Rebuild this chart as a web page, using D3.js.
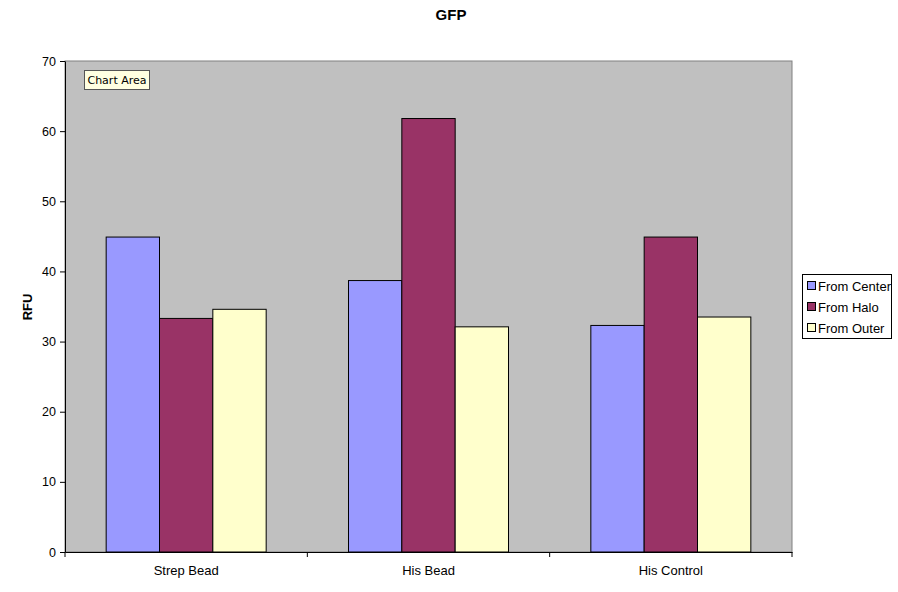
<!DOCTYPE html>
<html><head><meta charset="utf-8">
<script src="https://cdn.jsdelivr.net/npm/d3@7"></script>
<style>body{margin:0;background:#fff;}svg{display:block;font-family:Arial,"Liberation Sans",sans-serif;}</style>
</head><body><svg id="c" width="898" height="592"></svg>
<script>
const categories = ["Strep Bead", "His Bead", "His Control"];
const seriesNames = ["From Center", "From Halo", "From Outer"];
const fromCenter = [44.9, 38.7, 32.3];
const fromHalo = [33.3, 61.8, 44.9];
const fromOuter = [34.6, 32.1, 33.5];
const yTicks = [0, 10, 20, 30, 40, 50, 60, 70];
const colors = ["#9999ff", "#993366", "#ffffcc"];

const series = [fromCenter, fromHalo, fromOuter];
const svg = d3.select("#c");
const L = 65, R = 792, T = 61, B = 552;

const x = d3.scaleBand().domain(categories).range([L, R]).paddingInner(0).paddingOuter(0);
const groupW = 160;
const xs = d3.scaleBand().domain(seriesNames).range([0, groupW]).padding(0);
const y = d3.scaleLinear().domain([0, 70]).range([B, T]);

svg.append("rect").attr("x", L).attr("y", T).attr("width", R - L).attr("height", B - T)
  .attr("fill", "#c0c0c0").attr("stroke", "#808080").attr("stroke-width", 1);

categories.forEach((c, ci) => {
  const gx = x(c) + (x.bandwidth() - groupW) / 2;
  seriesNames.forEach((s, si) => {
    const v = series[si][ci];
    svg.append("rect")
      .attr("x", gx + xs(s)).attr("y", y(v))
      .attr("width", xs.bandwidth()).attr("height", y(0) - y(v))
      .attr("fill", colors[si]).attr("stroke", "#000").attr("stroke-width", 1);
  });
});

// y axis
const ya = svg.append("g").attr("transform", `translate(${L},0)`)
  .call(d3.axisLeft(y).tickValues(yTicks).tickSize(5).tickSizeOuter(0).tickPadding(4));
ya.select(".domain").attr("stroke", "#000");
ya.selectAll("line").attr("stroke", "#000");
ya.selectAll("text").attr("font-size", 12.5).attr("fill", "#000").attr("font-family", "Arial, 'Liberation Sans', sans-serif");

// x axis
const xa = svg.append("g").attr("transform", `translate(0,${B})`)
  .call(d3.axisBottom(x).tickSize(0).tickPadding(14));
xa.select(".domain").attr("stroke", "#000");
xa.selectAll("text").attr("font-size", 13).attr("fill", "#000").attr("font-family", "Arial, 'Liberation Sans', sans-serif");
const bounds = categories.map(c => x(c)).concat([R]);
xa.selectAll(".bound").data(bounds).enter().append("line")
  .attr("x1", d => d).attr("x2", d => d).attr("y1", 0).attr("y2", 5).attr("stroke", "#000");

// title
svg.append("text").attr("x", 451).attr("y", 20).attr("text-anchor", "middle")
  .attr("font-size", 15).attr("font-weight", "bold").text("GFP");
svg.append("text").attr("transform", "translate(32,307) rotate(-90)").attr("text-anchor", "middle")
  .attr("font-size", 13).attr("font-weight", "bold").text("RFU");

// chart area tooltip
svg.append("rect").attr("x", 84.5).attr("y", 70.5).attr("width", 65).attr("height", 19)
  .attr("fill", "#ffffe1").attr("stroke", "#555");
svg.append("text").attr("x", 117).attr("y", 84).attr("text-anchor", "middle")
  .attr("font-size", 11).attr("font-family", "Tahoma, 'DejaVu Sans', sans-serif").text("Chart Area");

// legend
const lg = svg.append("g");
lg.append("rect").attr("x", 802.5).attr("y", 274.5).attr("width", 89).attr("height", 64)
  .attr("fill", "#fff").attr("stroke", "#000");
seriesNames.forEach((s, i) => {
  const yy = 286 + i * 21;
  lg.append("rect").attr("x", 807.5).attr("y", yy - 4.5).attr("width", 8).attr("height", 8)
    .attr("fill", colors[i]).attr("stroke", "#000");
  lg.append("text").attr("x", 818).attr("y", yy + 5).attr("font-size", 13).text(s);
});
</script></body></html>
